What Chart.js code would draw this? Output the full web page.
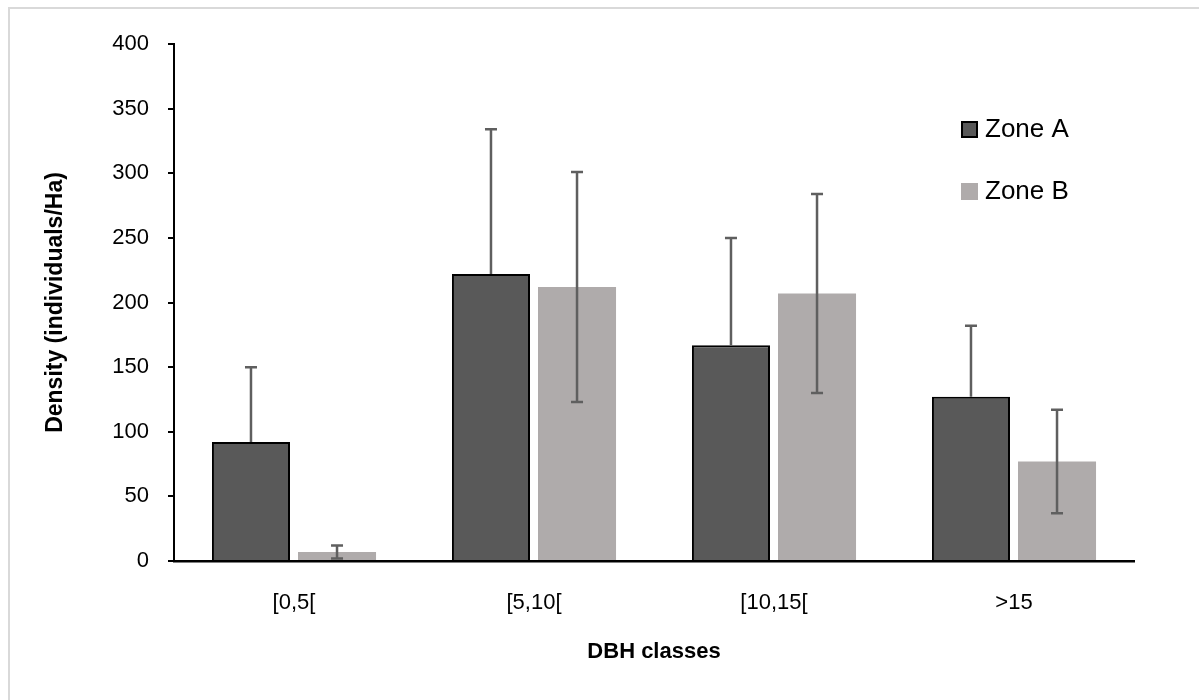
<!DOCTYPE html>
<html>
<head>
<meta charset="utf-8">
<script src="https://cdn.jsdelivr.net/npm/chart.js@4.4.1/dist/chart.umd.min.js"></script>
<style>
	body { margin: 0; background: #fff; }
	canvas { display: block; }
</style>
</head>
<body>
<canvas id="densityChart" width="1199" height="700"></canvas>
<script>
const classes = ['[0,5[', '[5,10[', '[10,15[', '>15']
const zoneA = [92, 222, 167, 127]
const zoneB = [7, 212, 207, 77]
const errA = [58, 112, 83, 55] // only the upper arm shows for zone A
const errB = [5, 89, 77, 40]
const yTicks = [0, 50, 100, 150, 200, 250, 300, 350, 400]

const FONT = "'Liberation Sans Narrow', 'Arial Narrow', 'Liberation Sans', sans-serif"

// light frame round the picture
const frame = {
	id: 'frame',
	beforeDraw(chart) {
		const ctx = chart.ctx
		ctx.save()
		ctx.strokeStyle = '#d9d9d9'
		ctx.lineWidth = 2
		ctx.strokeRect(9, 8, 1400, 900)
		ctx.restore()
	},
}

const errorBars = {
	id: 'errorBars',
	afterDatasetsDraw(chart) {
		const ctx = chart.ctx
		const y = chart.scales.y
		chart.data.datasets.forEach((ds, i) => {
			const meta = chart.getDatasetMeta(i)
			meta.data.forEach((bar, j) => {
				const v = ds.data[j]
				const e = ds.errors[j]
				const top = y.getPixelForValue(v + e)
				const bottom = y.getPixelForValue(ds.upperOnly ? v : v - e)
				ctx.save()
				ctx.strokeStyle = '#5f5f5f'
				ctx.lineWidth = 2.5
				ctx.beginPath()
				ctx.moveTo(bar.x, top)
				ctx.lineTo(bar.x, bottom)
				ctx.moveTo(bar.x - 6, top)
				ctx.lineTo(bar.x + 6, top)
				if (!ds.upperOnly) {
					ctx.moveTo(bar.x - 6, bottom)
					ctx.lineTo(bar.x + 6, bottom)
				}
				ctx.stroke()
				ctx.restore()
			})
		})
	},
}

const boxLegend = {
	id: 'boxLegend',
	afterDraw(chart) {
		const ctx = chart.ctx
		ctx.save()
		chart.data.datasets.forEach((ds, i) => {
			const y = 129 + i * 62
			ctx.fillStyle = ds.backgroundColor
			ctx.fillRect(961, y - 8, 17, 17)
			if (ds.borderWidth) {
				ctx.strokeStyle = ds.borderColor
				ctx.lineWidth = 2
				ctx.strokeRect(962, y - 7, 15, 15)
			}
			ctx.fillStyle = '#000'
			ctx.font = '26px ' + FONT
			ctx.textBaseline = 'middle'
			ctx.fillText(ds.label, 985, y + 1)
		})
		ctx.restore()
	},
}

new Chart(document.getElementById('densityChart'), {
	type: 'bar',
	data: {
		labels: classes,
		datasets: [
			{
				label: 'Zone A',
				data: zoneA,
				errors: errA,
				upperOnly: true,
				backgroundColor: '#595959',
				borderColor: '#000',
				borderWidth: 2,
				categoryPercentage: 0.717,
				barPercentage: 0.907,
			},
			{
				label: 'Zone B',
				data: zoneB,
				errors: errB,
				backgroundColor: '#afabab',
				borderWidth: 0,
				categoryPercentage: 0.717,
				barPercentage: 0.907,
			},
		],
	},
	options: {
		responsive: false,
		animation: false,
		layout: {
			padding: { left: 0, right: 65, top: 44, bottom: 0 },
		},
		plugins: {
			legend: { display: false },
			tooltip: { enabled: false },
		},
		scales: {
			x: {
				grid: { display: false, drawTicks: false },
				border: { display: true, color: '#000', width: 2.5 },
				ticks: {
					color: '#000',
					font: { family: FONT, size: 22 },
					padding: 29,
				},
				title: {
					display: true,
					text: 'DBH classes',
					color: '#000',
					font: { family: FONT, size: 22, weight: 'bold' },
					padding: { top: 0, bottom: 35 },
				},
				afterFit(scale) {
					scale.height = 139
				},
			},
			y: {
				min: 0,
				max: 400,
				afterBuildTicks(scale) {
					scale.ticks = yTicks.map(v => ({ value: v }))
				},
				grid: {
					display: true,
					drawOnChartArea: false,
					drawTicks: true,
					tickLength: 6,
					color: '#000',
					lineWidth: 2,
				},
				border: { display: true, color: '#000', width: 2 },
				ticks: {
					color: '#000',
					font: { family: FONT, size: 22 },
					padding: 19,
				},
				title: {
					display: true,
					text: 'Density (individuals/Ha)',
					color: '#000',
					font: { family: FONT, size: 23, weight: 'bold' },
					padding: { top: 42, bottom: 0 },
				},
				afterFit(scale) {
					scale.width = 174
				},
			},
		},
	},
	plugins: [frame, errorBars, boxLegend],
})
</script>
</body>
</html>
